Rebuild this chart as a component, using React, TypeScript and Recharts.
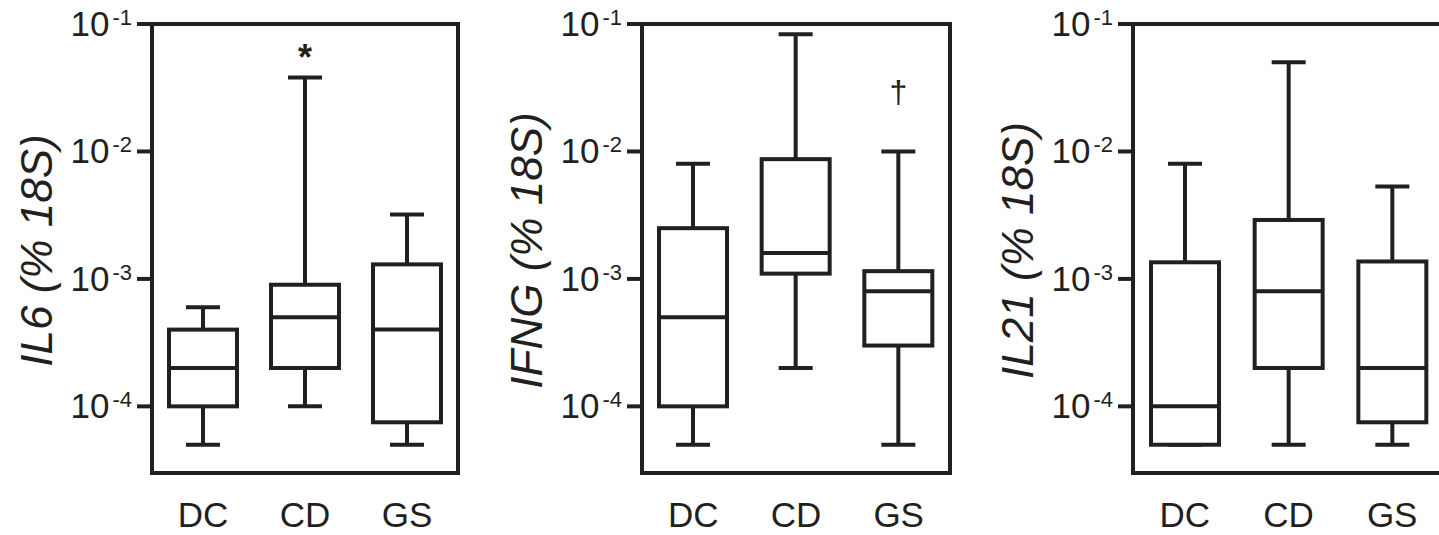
import { ComposedChart, Bar, XAxis, YAxis, ReferenceArea } from 'recharts'

const CATEGORIES = ['DC', 'CD', 'GS']

// [min, q1, median, q3, max] for DC, CD, GS
const IL6 = [
  [5e-5, 1e-4, 2e-4, 4e-4, 6e-4],
  [1e-4, 2e-4, 5e-4, 9e-4, 3.8e-2],
  [5e-5, 7.5e-5, 4e-4, 1.3e-3, 3.2e-3],
]
const IFNG = [
  [5e-5, 1e-4, 5e-4, 2.5e-3, 8e-3],
  [2e-4, 1.1e-3, 1.6e-3, 8.7e-3, 8.3e-2],
  [5e-5, 3e-4, 8e-4, 1.15e-3, 1e-2],
]
const IL21 = [
  [5e-5, 5e-5, 1e-4, 1.35e-3, 8e-3],
  [5e-5, 2e-4, 8e-4, 2.9e-3, 5e-2],
  [5e-5, 7.5e-5, 2e-4, 1.37e-3, 5.3e-3],
]

const IL6_NOTES = ['', '*', '']
const IFNG_NOTES = ['', '', '†']
const IL21_NOTES = ['', '', '']

const Y_TICKS = [1e-4, 1e-3, 1e-2, 1e-1]
const Y_DOMAIN = [3e-5, 1e-1]

const INK = '#231f20'
const FONT = '"Liberation Sans", Arial, sans-serif'
const LW = 4

function buildRows(stats: number[][], notes: string[]) {
  return CATEGORIES.map((name, i) => {
    const [min, q1, med, q3, max] = stats[i]
    return { name, whisker: [min, max], box: [q1, q3], median: [q1, med], note: notes[i] }
  })
}

function norm(p: any) {
  const h = p.height ?? 0
  return { x: p.x, w: p.width, top: h < 0 ? p.y + h : p.y, h: Math.abs(h) }
}

function Whisker(props: any) {
  const { x, w, top, h } = norm(props)
  const cx = x + w / 2
  const cap = 17
  const note = props.payload?.note
  return (
    <g>
      <g stroke={INK} strokeWidth={LW} fill="none">
        <line x1={cx} x2={cx} y1={top} y2={top + h} />
        <line x1={cx - cap} x2={cx + cap} y1={top} y2={top} />
        <line x1={cx - cap} x2={cx + cap} y1={top + h} y2={top + h} />
      </g>
      {note && (
        <text
          x={cx}
          y={top - props.noteGap}
          textAnchor="middle"
          fill={INK}
          fontFamily={FONT}
          fontSize={props.noteSize}
          fontWeight={props.noteWeight}
        >
          {note}
        </text>
      )}
    </g>
  )
}

function Box(props: any) {
  const { x, w, top, h } = norm(props)
  return <rect x={x} y={top} width={w} height={h} fill="#fff" stroke={INK} strokeWidth={LW} />
}

function Median(props: any) {
  const { x, w, top } = norm(props)
  return <line x1={x} x2={x + w} y1={top} y2={top} stroke={INK} strokeWidth={LW} />
}

function PowerTick({ x, y, payload }: any) {
  const exp = Math.round(Math.log10(payload.value))
  return (
    <text x={x} y={y + 12} textAnchor="end" fill={INK} fontFamily={FONT}>
      <tspan fontSize={35}>10</tspan>
      <tspan fontSize={22} dx={3} dy={-11}>{String(exp)}</tspan>
    </text>
  )
}

function CategoryTick({ x, y, payload }: any) {
  return (
    <text x={x} y={y + 54} textAnchor="middle" fill={INK} fontFamily={FONT} fontSize={35}>
      {payload.value}
    </text>
  )
}

function Panel({ left, plotWidth, title, stats, notes, noteGap = 8, noteSize = 36, noteWeight = 'bold' }: {
  left: number; plotWidth: number; title: string; stats: number[][]; notes: string[]
  noteGap?: number; noteSize?: number; noteWeight?: string
}) {
  const rows = buildRows(stats, notes)
  return (
    <div style={{ position: 'absolute', left, top: 0 }}>
      <ComposedChart
        width={152 + plotWidth + 8}
        height={535}
        data={rows}
        margin={{ top: 24, right: 8, bottom: 0, left: 0 }}
        barSize={68}
        barGap={-68}
      >
        <XAxis
          dataKey="name"
          height={62}
          axisLine={false}
          tickLine={false}
          tickSize={0}
          tickMargin={0}
          interval={0}
          tick={<CategoryTick />}
        />
        <YAxis
          scale="log"
          type="number"
          domain={Y_DOMAIN}
          ticks={Y_TICKS}
          allowDataOverflow
          width={152}
          axisLine={false}
          tickLine={{ stroke: INK, strokeWidth: LW }}
          tickSize={15}
          tickMargin={5}
          tick={<PowerTick />}
          label={(p: any) => {
            const vb = p.viewBox
            const cx = vb.x + vb.width - 116
            const cy = vb.y + vb.height / 2 + 2
            return (
              <text
                x={cx}
                y={cy}
                transform={`rotate(-90 ${cx} ${cy})`}
                textAnchor="middle"
                dominantBaseline="central"
                fill={INK}
                fontFamily={FONT}
                fontSize={44}
                fontStyle="italic"
              >
                {title}
              </text>
            )
          }}
        />
        <ReferenceArea y1={Y_DOMAIN[0]} y2={Y_DOMAIN[1]} fill="none" fillOpacity={0} stroke={INK} strokeWidth={LW} />
        <Bar
          dataKey="whisker"
          isAnimationActive={false}
          shape={(p: any) => <Whisker {...p} noteGap={noteGap} noteSize={noteSize} noteWeight={noteWeight} />}
        />
        <Bar dataKey="box" isAnimationActive={false} shape={(p: any) => <Box {...p} />} />
        <Bar dataKey="median" isAnimationActive={false} shape={(p: any) => <Median {...p} />} />
      </ComposedChart>
    </div>
  )
}

export default function App() {
  return (
    <div style={{ position: 'absolute', left: 0, top: 0, width: 1439, height: 535, overflow: 'hidden', background: '#fff' }}>
      <Panel left={0} plotWidth={306} title="IL6 (% 18S)" stats={IL6} notes={IL6_NOTES} />
      <Panel
        left={490}
        plotWidth={308}
        title="IFNG (% 18S)"
        stats={IFNG}
        notes={IFNG_NOTES}
        noteGap={48}
        noteSize={32}
        noteWeight="normal"
      />
      <Panel left={981} plotWidth={311} title="IL21 (% 18S)" stats={IL21} notes={IL21_NOTES} />
    </div>
  )
}
